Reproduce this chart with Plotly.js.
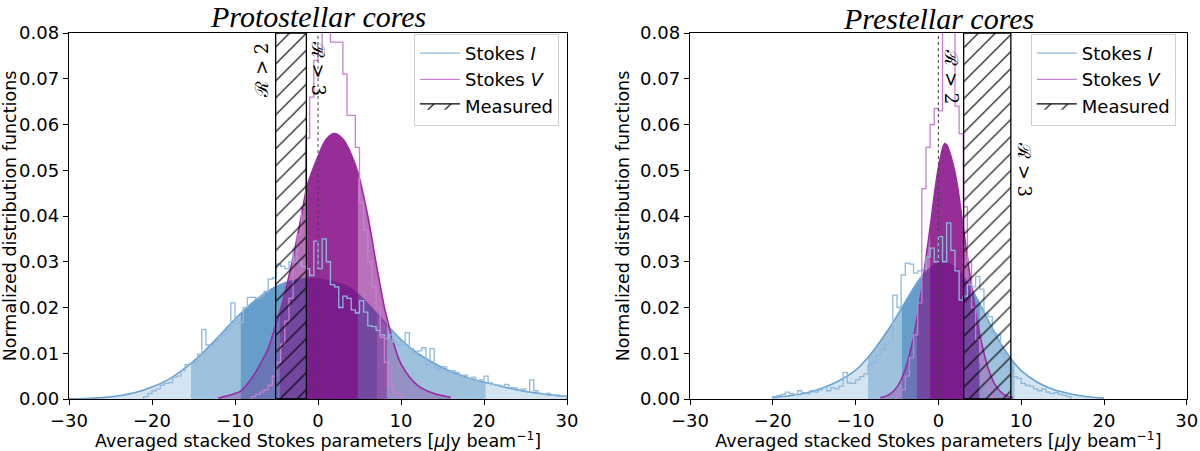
<!DOCTYPE html>
<html>
<head>
<meta charset="utf-8">
<script src="https://cdn.plot.ly/plotly-3.0.1.min.js"></script>
<style>
  html, body { margin: 0; padding: 0; background: #fff; }
  #chart { width: 1200px; height: 451px; }
</style>
</head>
<body>
<div id="chart"></div>
<script>
"use strict";

// ---------- Protostellar cores (left panel) ----------
// fitted curve of Stokes I
const protoIX = [-30, -28, -26, -24, -22, -20, -18, -16, -15.3, -14, -12, -10, -9.3, -8, -6, -4, -2, -1.4, 0, 2, 4, 6, 7.1, 8, 10, 12, 14, 16, 18, 20.2, 22, 24, 26, 28, 30];
const protoIY = [0.00002, 0.0001, 0.0003, 0.0007, 0.0014, 0.0026, 0.0043, 0.0068, 0.0078, 0.0099, 0.0136, 0.0175, 0.0187, 0.0209, 0.0236, 0.0254, 0.0263, 0.0264, 0.0262, 0.0255, 0.0241, 0.0208, 0.0186, 0.0168, 0.0130, 0.0100, 0.0078, 0.0060, 0.0047, 0.0036, 0.0028, 0.0020, 0.0014, 0.0009, 0.0006];
const protoIBand1 = [-9.3, 7.1];
const protoIBand2 = [-15.3, 20.2];

// fitted curve of Stokes V
const protoVX = [-12, -10, -9.3, -8, -7, -6, -5.3, -4.6, -4, -3, -2, -1.3, 0, 1, 2, 3, 4, 4.8, 6, 7, 8, 8.3, 9, 10, 12, 14, 16];
const protoVY = [0.0002, 0.0012, 0.0018, 0.0045, 0.0075, 0.011, 0.015, 0.019, 0.023, 0.031, 0.040, 0.0466, 0.053, 0.0568, 0.058, 0.0568, 0.0535, 0.0495, 0.040, 0.0297, 0.020, 0.0178, 0.0129, 0.0077, 0.0030, 0.0012, 0.0004];
const protoVBand1 = [-1.3, 4.8];
const protoVBand2 = [-4.6, 8.3];

// histograms (bin width 0.5, first bin start given)
const protoIHistStart = -21;
const protoIHist = [0.0005, 0.0012, 0.0018, 0.0022, 0.0030, 0.0034, 0.0036, 0.0048, 0.0050, 0.0062,
  0.0075, 0.0078, 0.0080, 0.0098, 0.0152, 0.0118, 0.0115, 0.0125, 0.0138, 0.0140,
  0.0152, 0.0210, 0.0165, 0.0168, 0.0200, 0.0222, 0.0222, 0.0220, 0.0225, 0.0235,
  0.0262, 0.0265, 0.0295, 0.0290, 0.0285, 0.0300, 0.0330, 0.0300, 0.0290, 0.0285,
  0.0270, 0.0345, 0.0285, 0.0350, 0.0300, 0.0250, 0.0245, 0.0200, 0.0225, 0.0220,
  0.0195, 0.0188, 0.0215, 0.0190, 0.0160, 0.0158, 0.0150, 0.0140, 0.0132, 0.0140,
  0.0125, 0.0118, 0.0120, 0.0145, 0.0110, 0.0100, 0.0105, 0.0112, 0.0075, 0.0110,
  0.0068, 0.0065, 0.0070, 0.0060, 0.0062, 0.0058, 0.0050, 0.0052, 0.0045, 0.0048,
  0.0040, 0.0042, 0.0050, 0.0035, 0.0032, 0.0030, 0.0028, 0.0032, 0.0025, 0.0024,
  0.0020, 0.0022, 0.0015, 0.0042, 0.0018, 0.0012, 0.0010, 0.0012, 0.0008, 0.0009,
  0.0006, 0.0005];
const protoVHistStart = -8;
const protoVHist = [0.0005, 0.001, 0.0015, 0.002, 0.003, 0.005, 0.008, 0.012, 0.017, 0.022,
  0.030, 0.036, 0.042, 0.057, 0.066, 0.074, 0.076, 0.090, 0.090, 0.078,
  0.078, 0.078, 0.071, 0.062, 0.062, 0.055, 0.043, 0.037, 0.030, 0.0245,
  0.020, 0.0135, 0.008, 0.003, 0.0015, 0.0008];
const protoMeasured = [-5.1, -1.4];

// ---------- Prestellar cores (right panel) ----------
const preIX = [-20, -18, -16, -14, -12, -10, -8.5, -8, -6, -4.4, -4, -2, 0, 0.3, 2, 4, 5, 6, 8, 9.2, 10, 12, 14, 16, 18, 20];
const preIY = [0.0003, 0.0007, 0.0013, 0.0024, 0.0040, 0.0063, 0.0091, 0.0102, 0.0153, 0.0200, 0.0212, 0.0268, 0.0299, 0.0300, 0.0288, 0.0240, 0.0208, 0.0172, 0.0108, 0.0078, 0.0062, 0.0036, 0.0020, 0.0011, 0.0005, 0.0002];
const preIBand1 = [-4.4, 5];
const preIBand2 = [-8.5, 9.2];

const preVX = [-7, -6, -5, -4, -3, -2.6, -2, -1, 0, 0.75, 1, 2, 3, 4, 4.9, 6, 7, 8, 9];
const preVY = [0.0003, 0.0009, 0.0026, 0.0065, 0.0135, 0.0175, 0.0243, 0.0375, 0.0505, 0.0558, 0.0555, 0.0495, 0.0375, 0.0248, 0.0150, 0.0068, 0.0027, 0.0009, 0.0003];
const preVBand1 = [-1, 3];
const preVBand2 = [-2.6, 4.9];

const preIHistStart = -20;
const preIHist = [0.0005, 0.0008, 0.0010, 0.0015, 0.0012, 0.0010, 0.0018, 0.0014, 0.0012, 0.0018,
  0.0015, 0.0020, 0.0025, 0.0018, 0.0025, 0.0022, 0.0028, 0.0058, 0.0035, 0.0034,
  0.0042, 0.0049, 0.0055, 0.0075, 0.0080, 0.0095, 0.0108, 0.0120, 0.0125, 0.0227,
  0.0200, 0.0271, 0.0297, 0.0295, 0.0275, 0.0280, 0.0285, 0.0310, 0.0330, 0.0300,
  0.0355, 0.0300, 0.0385, 0.0325, 0.0280, 0.0216, 0.0225, 0.0250, 0.0245, 0.0268,
  0.0240, 0.0187, 0.0180, 0.0144, 0.0140, 0.0100, 0.0070, 0.0065, 0.0049, 0.0045,
  0.0034, 0.0030, 0.0028, 0.0022, 0.0018, 0.0022, 0.0015, 0.0012, 0.0014, 0.0010,
  0.0008, 0.0005];
const preVHistStart = -5;
const preVHist = [0.001, 0.002, 0.005, 0.009, 0.014, 0.021, 0.046, 0.055, 0.060, 0.0635,
  0.063, 0.090, 0.090, 0.090, 0.064, 0.058, 0.042, 0.030, 0.020, 0.013,
  0.008, 0.004, 0.002];
const preMeasured = [3.05, 8.75];

const binWidth = 0.5;
const yTop = 0.08;

// colours
const blueFill = "40,120,180";
const purpleFill = "128,0,128";
const blueLine = "#6aa2d2";
const purpleLine = "#9a2aa4";
const blueHist = "#8fb8dc";
const purpleHist = "#c680d0";

function band(xs, ys, lo, hi) {
    const bx = [], by = [];
    for (let i = 0; i < xs.length; i++) {
        if (xs[i] >= lo - 1e-9 && xs[i] <= hi + 1e-9) { bx.push(xs[i]); by.push(ys[i]); }
    }
    return { x: bx, y: by };
}

function fillTrace(xs, ys, rgb, alpha, ax) {
    return {
        x: xs, y: ys, xaxis: ax.x, yaxis: ax.y, type: "scatter", mode: "lines",
        line: { width: 0, shape: "spline" }, fill: "tozeroy",
        fillcolor: "rgba(" + rgb + "," + alpha + ")", showlegend: false, hoverinfo: "skip"
    };
}

function curveTraces(xs, ys, b1, b2, rgb, alphas, lineColor, ax) {
    const out = [];
    out.push(fillTrace(xs, ys, rgb, alphas[0], ax));
    const m = band(xs, ys, b2[0], b2[1]);
    out.push(fillTrace(m.x, m.y, rgb, alphas[1], ax));
    const d = band(xs, ys, b1[0], b1[1]);
    out.push(fillTrace(d.x, d.y, rgb, alphas[2], ax));
    out.push({
        x: xs, y: ys, xaxis: ax.x, yaxis: ax.y, type: "scatter", mode: "lines",
        line: { color: lineColor, width: 1.6, shape: "spline" }, showlegend: false
    });
    return out;
}

function histTrace(start, vals, color, name, ax, legend, show) {
    const hx = [start], hy = [0];
    for (let i = 0; i < vals.length; i++) {
        hx.push(start + i * binWidth);
        hy.push(vals[i]);
    }
    hx.push(start + vals.length * binWidth);
    hy.push(0);
    return {
        x: hx, y: hy, xaxis: ax.x, yaxis: ax.y, type: "scatter", mode: "lines",
        line: { color: color, width: 1.3, shape: "hv" }, name: name,
        legend: legend, showlegend: show
    };
}

function hatchTrace(meas, ax, legend) {
    return {
        x: [meas[0], meas[0], meas[1], meas[1], meas[0]],
        y: [0, yTop, yTop, 0, 0],
        xaxis: ax.x, yaxis: ax.y, type: "scatter", mode: "lines",
        fill: "toself", fillcolor: "rgba(0,0,0,0)",
        fillpattern: { shape: "/", fgcolor: "#000", bgcolor: "rgba(0,0,0,0)", size: 12, solidity: 0.1 },
        line: { color: "#000", width: 1.3 }, name: "Measured",
        legend: legend, showlegend: true
    };
}

const axL = { x: "x", y: "y" };
const axR = { x: "x2", y: "y2" };
const bA = [0.2, 0.31, 0.49];
const pA = [0.25, 0.4, 0.6];

let data = [];
data = data.concat(curveTraces(protoIX, protoIY, protoIBand1, protoIBand2, blueFill, bA, blueLine, axL));
data = data.concat(curveTraces(protoVX, protoVY, protoVBand1, protoVBand2, purpleFill, pA, purpleLine, axL));
data.push(histTrace(protoIHistStart, protoIHist, blueHist, "Stokes <i>I</i>", axL, "legend", true));
data.push(histTrace(protoVHistStart, protoVHist, purpleHist, "Stokes <i>V</i>", axL, "legend", true));
data.push(hatchTrace(protoMeasured, axL, "legend"));

data = data.concat(curveTraces(preIX, preIY, preIBand1, preIBand2, blueFill, bA, blueLine, axR));
data = data.concat(curveTraces(preVX, preVY, preVBand1, preVBand2, purpleFill, pA, purpleLine, axR));
data.push(histTrace(preIHistStart, preIHist, blueHist, "Stokes <i>I</i>", axR, "legend2", true));
data.push(histTrace(preVHistStart, preVHist, purpleHist, "Stokes <i>V</i>", axR, "legend2", true));
data.push(hatchTrace(preMeasured, axR, "legend2"));

const tickFont = { family: "DejaVu Sans", size: 18, color: "#000" };
const titleFont = { family: "DejaVu Sans", size: 17.5, color: "#000" };
const xTitle = "Averaged stacked Stokes parameters [<i>μ</i>Jy beam<sup>−1</sup>]";

function xAxis(domain, anchor) {
    return {
        domain: domain, anchor: anchor, range: [-30, 30], dtick: 10, tick0: 0,
        showline: true, mirror: true, linecolor: "#000", linewidth: 1.2,
        ticks: "outside", ticklen: 5, tickcolor: "#000", showgrid: false, zeroline: false,
        tickfont: tickFont, automargin: false,
        title: { text: xTitle, font: titleFont, standoff: 4 }
    };
}
function yAxis(anchor) {
    return {
        domain: [0.1153, 0.9268], anchor: anchor, range: [0, yTop], dtick: 0.01, tickformat: ".2f",
        showline: true, mirror: true, linecolor: "#000", linewidth: 1.2,
        ticks: "outside", ticklen: 5, tickcolor: "#000", showgrid: false, zeroline: false,
        tickfont: tickFont, automargin: false,
        title: { text: "Normalized distribution functions", font: titleFont, standoff: 6 }
    };
}

function rLabel(text, x, y, angle, xshift, xref, yref) {
    return {
        text: text, x: x, y: y, xref: xref, yref: yref, showarrow: false, textangle: angle,
        xanchor: "center", yanchor: "middle", xshift: xshift,
        font: { family: "DejaVu Serif", size: 18, color: "#000" }
    };
}

function zeroLine(xref, yref) {
    return {
        type: "line", xref: xref, yref: yref, x0: 0, x1: 0, y0: 0, y1: yTop,
        line: { color: "#444", width: 1, dash: "dot" }, layer: "above"
    };
}

const legendStyle = {
    xanchor: "left", yanchor: "top", yref: "paper", xref: "paper",
    bgcolor: "rgba(255,255,255,0.85)", bordercolor: "#d0d0d0", borderwidth: 1,
    font: { family: "DejaVu Sans", size: 18, color: "#000" },
    tracegroupgap: 0, itemwidth: 40
};

const layout = {
    width: 1200, height: 451,
    margin: { l: 0, r: 0, t: 0, b: 0 },
    paper_bgcolor: "#fff", plot_bgcolor: "#fff",
    xaxis: xAxis([0.0575, 0.4725], "y"),
    yaxis: yAxis("x"),
    xaxis2: xAxis([0.575, 0.989], "y2"),
    yaxis2: yAxis("x2"),
    legend: Object.assign({ x: 0.345, y: 0.925 }, legendStyle),
    legend2: Object.assign({ x: 0.859, y: 0.925 }, legendStyle),
    shapes: [zeroLine("x", "y"), zeroLine("x2", "y2")],
    annotations: [
        { text: "<i>Protostellar cores</i>", x: 0.265, y: 1.005, xref: "paper", yref: "paper",
          xanchor: "center", yanchor: "top", showarrow: false,
          font: { family: "Liberation Serif", size: 30, color: "#000" } },
        { text: "<i>Prestellar cores</i>", x: 0.782, y: 1.0, xref: "paper", yref: "paper",
          xanchor: "center", yanchor: "top", showarrow: false,
          font: { family: "Liberation Serif", size: 30, color: "#000" } },
        rLabel("ℛ > 2", protoMeasured[0], 0.0719, -90, -15, "x", "y"),
        rLabel("ℛ > 3", protoMeasured[1], 0.0723, 90, 12, "x", "y"),
        rLabel("ℛ > 2", preMeasured[0], 0.0704, 90, -13, "x2", "y2"),
        rLabel("ℛ > 3", preMeasured[1], 0.0501, 90, 13, "x2", "y2")
    ]
};

Plotly.newPlot("chart", data, layout, { displayModeBar: false, staticPlot: true });
</script>
</body>
</html>
